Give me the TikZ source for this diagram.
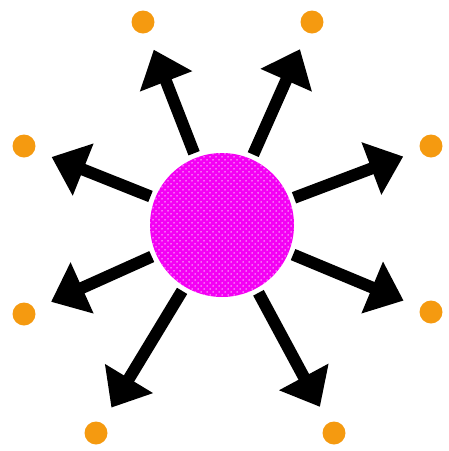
\documentclass[tikz,border=0pt]{standalone}
\usetikzlibrary{arrows.meta,patterns}
\definecolor{hubmag}{HTML}{F400F4}
\definecolor{dotorange}{HTML}{F59A10}
\pgfdeclarepatternformonly{hubdots}{\pgfpoint{-1pt}{-1pt}}{\pgfpoint{7pt}{7pt}}{\pgfpoint{6pt}{6pt}}{%
  \pgfpathcircle{\pgfpoint{0pt}{0pt}}{0.75pt}\pgfusepath{fill}%
  \pgfpathcircle{\pgfpoint{3pt}{3pt}}{0.75pt}\pgfusepath{fill}}
\begin{document}
\begin{tikzpicture}[x=1pt,y=-1pt,
  hub/.style={circle,minimum size=144pt,inner sep=0pt,outer sep=5pt,fill=hubmag,postaction={pattern=hubdots,pattern color=white!85!hubmag}},
  target/.style={circle,minimum size=23pt,inner sep=0pt,fill=dotorange},
  ray/.style={line width=12pt,-{Triangle[length=34pt,width=54pt]},shorten >=18pt}]
\useasboundingbox (0,0) rectangle (449,451);
\node[hub] (c) at (222,225) {};
\node[target] (d1) at (143,22) {};
\node[target] (d2) at (312,22) {};
\node[target] (d3) at (24,146) {};
\node[target] (d4) at (431,146) {};
\node[target] (d5) at (24,314) {};
\node[target] (d6) at (431,312) {};
\node[target] (d7) at (96,433) {};
\node[target] (d8) at (334,433) {};
\foreach \d in {d1,d2,d3,d4,d5,d6,d7,d8}
  \draw[ray] (c) -- (\d);
\end{tikzpicture}
\end{document}
